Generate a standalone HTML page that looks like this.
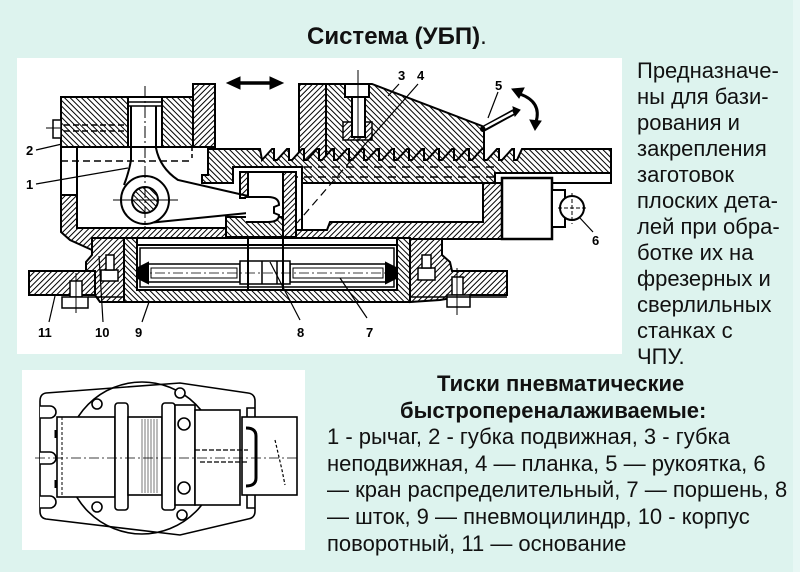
<!DOCTYPE html>
<html><head><meta charset="utf-8">
<style>
html,body{margin:0;padding:0}
body{width:800px;height:572px;background:#ddf3ee;position:relative;overflow:hidden;font-family:"Liberation Sans","DejaVu Sans",sans-serif;color:#111}
.t{position:absolute;white-space:nowrap;font-size:22px;line-height:26px}
</style></head><body>
<svg width="800" height="572" style="position:absolute;left:0;top:0" xmlns="http://www.w3.org/2000/svg">
<defs>
<pattern id="ha" width="4" height="4" patternUnits="userSpaceOnUse" patternTransform="rotate(45)"><rect width="4" height="4" fill="#fff"/><line x1="0.5" y1="0" x2="0.5" y2="4" stroke="#000" stroke-width="1"/></pattern>
<pattern id="hb" width="4" height="4" patternUnits="userSpaceOnUse" patternTransform="rotate(-45)"><rect width="4" height="4" fill="#fff"/><line x1="0.5" y1="0" x2="0.5" y2="4" stroke="#000" stroke-width="1"/></pattern>
</defs>
<rect x="793" y="0" width="7" height="572" fill="#e7f7f4"/>
<rect x="17" y="58" width="605" height="296" fill="#fff"/>
<rect x="22" y="370" width="283" height="180" fill="#fff"/>

<g stroke="#000" stroke-width="2" fill="none">
<!-- fixed jaw -->
<polygon points="326,84 372,84 482,126 484,132 484,160 326,160" fill="url(#hb)"/>
<rect x="299" y="84" width="27" height="76" fill="url(#ha)"/>
<rect x="343" y="122" width="29" height="18" fill="url(#ha)" stroke-width="1.5"/>
<rect x="345" y="84" width="24" height="13" fill="#fff"/>
<rect x="352" y="97" width="13" height="40" fill="#fff"/>
<line x1="358" y1="70" x2="358" y2="142" stroke-width="1"/>

<!-- movable jaw -->
<rect x="61" y="97" width="67" height="50" fill="url(#hb)"/>
<rect x="128" y="97" width="34" height="50" fill="#fff"/>
<rect x="162" y="97" width="31" height="50" fill="url(#hb)"/>
<rect x="193" y="84" width="22" height="63" fill="url(#ha)"/>
<line x1="128" y1="102" x2="162" y2="102" stroke-width="1.5"/>
<line x1="128" y1="106" x2="162" y2="106" stroke-width="1.5"/>
<line x1="55" y1="125" x2="128" y2="125" stroke-width="1.5" stroke-dasharray="6 3"/>
<line x1="55" y1="131" x2="128" y2="131" stroke-width="1.5" stroke-dasharray="6 3"/>
<rect x="53" y="120" width="8" height="18" fill="#fff" stroke-width="1.5"/>
<line x1="46" y1="128" x2="61" y2="128" stroke-width="1"/>

<!-- rack -->
<path d="M208,149 L260,149 L262,160 L272,149 L274,149 L274,160 L277,160 L287,149 L289,149 L289,160 L292,160 L302,149 L304,149 L304,160 L307,160 L317,149 L319,149 L319,160 L322,160 L332,149 L334,149 L334,160 L337,160 L347,149 L349,149 L349,160 L352,160 L362,149 L364,149 L364,160 L367,160 L377,149 L379,149 L379,160 L382,160 L392,149 L394,149 L394,160 L397,160 L407,149 L409,149 L409,160 L412,160 L422,149 L424,149 L424,160 L427,160 L437,149 L439,149 L439,160 L442,160 L452,149 L454,149 L454,160 L457,160 L467,149 L469,149 L469,160 L472,160 L482,149 L484,149 L484,160 L487,160 L497,149 L499,149 L499,160 L502,160 L512,149 L514,149 L514,160 L517,160 L522,149 L611,149 L611,173 L495,173 L495,183 L302,183 L302,167 L233,167 L233,183 L202,183 L202,175 L208,175 Z" fill="url(#hb)"/>
<line x1="290" y1="167" x2="495" y2="167" stroke-width="1.5" stroke-dasharray="8 6"/>
<line x1="290" y1="177" x2="495" y2="177" stroke-width="1.5" stroke-dasharray="8 6"/>
<path d="M552,183 L611,183 L611,173" stroke-width="2"/>

<!-- lower left body -->
<line x1="61" y1="147" x2="61" y2="195"/>
<line x1="77" y1="147" x2="77" y2="195"/>
<line x1="61" y1="147" x2="215" y2="147"/>
<polygon points="61,195 77,195 77,228 250,228 250,238 92,238 92,250 70,240 61,232" fill="url(#ha)"/>
<line x1="61" y1="161" x2="192" y2="161" stroke-width="1.5" stroke-dasharray="7 4"/>
<line x1="192" y1="147" x2="192" y2="161" stroke-width="1.5" stroke-dasharray="4 3"/>

<!-- center box -->
<rect x="240" y="172" width="8" height="26" fill="url(#ha)"/>
<rect x="283" y="172" width="13" height="65" fill="url(#ha)"/>
<rect x="226" y="217" width="57" height="20" fill="url(#hb)"/>
<line x1="240" y1="172" x2="296" y2="172"/>
<path d="M233,183 L233,167 L302,167 L302,237"/>

<!-- right cavity floor and wall -->
<polygon points="296,230 327,230 330,222 483,222 483,183 502,183 502,239 296,239" fill="url(#ha)"/>

<!-- cylinder -->
<path d="M123,238 L137,238 L137,290 L397,290 L397,238 L410,238 L410,302 L123,302 Z" fill="url(#hb)"/>
<rect x="137" y="238" width="260" height="7" fill="#fff"/>
<rect x="137" y="245" width="260" height="45" fill="#fff"/>
<rect x="140" y="248" width="254" height="39" stroke-width="1.5"/>
<rect x="148" y="264" width="92" height="18" fill="#fff" stroke-width="1.5"/>
<rect x="151" y="268" width="86" height="10" stroke-width="1"/>
<polygon points="138,268 148,263 148,283 138,278" fill="#000"/>
<rect x="290" y="264" width="96" height="18" fill="#fff" stroke-width="1.5"/>
<rect x="293" y="268" width="90" height="10" stroke-width="1"/>
<polygon points="396,268 386,263 386,283 396,278" fill="#000"/>
<rect x="240" y="261" width="50" height="23" fill="#fff" stroke-width="1.5"/>
<line x1="262" y1="261" x2="262" y2="284" stroke-width="1.5"/>
<line x1="277" y1="261" x2="277" y2="284" stroke-width="1.5"/>
<line x1="248" y1="237" x2="248" y2="290"/>
<line x1="283" y1="237" x2="283" y2="290"/>
<line x1="137" y1="273" x2="397" y2="273" stroke-width="0.8" stroke-dasharray="10 3 2 3"/>

<!-- body 10 left / base 11 -->
<polygon points="92,238 124,238 124,302 100,302 95,295 95,271 86,271 86,262 92,255" fill="url(#ha)"/>
<rect x="101" y="270" width="17" height="11" fill="#fff" stroke-width="1.5"/>
<rect x="106" y="255" width="8" height="15" fill="#fff" stroke-width="1.5"/>
<rect x="29" y="271" width="66" height="24" fill="url(#ha)"/>
<rect x="70" y="281" width="12" height="16" fill="#fff" stroke-width="1.5"/>
<rect x="62" y="297" width="26" height="11" fill="#fff" stroke-width="1.5"/>
<line x1="76" y1="273" x2="76" y2="313" stroke-width="1"/>
<line x1="88" y1="297" x2="123" y2="297" stroke-width="1.5"/>

<!-- body 10 right / base right -->
<polygon points="410,239 442,239 442,255 450,262 452,271 507,271 507,295 470,295 440,300 410,302" fill="url(#ha)"/>
<rect x="418" y="268" width="17" height="12" fill="#fff" stroke-width="1.5"/>
<rect x="422" y="255" width="9" height="13" fill="#fff" stroke-width="1.5"/>
<rect x="452" y="277" width="11" height="18" fill="#fff" stroke-width="1.5"/>
<rect x="447" y="295" width="23" height="12" fill="#fff" stroke-width="1.5"/>
<line x1="457" y1="268" x2="457" y2="315" stroke-width="1"/>
<line x1="410" y1="297" x2="507" y2="297" stroke-width="1.5"/>

<!-- valve 6 -->
<rect x="502" y="178" width="50" height="61" fill="#fff" stroke-width="2.5"/>
<rect x="552" y="190" width="13" height="37" fill="#fff"/>
<circle cx="572" cy="208" r="12" fill="#fff"/>
<line x1="558" y1="208" x2="587" y2="208" stroke-width="1" stroke-dasharray="4 2"/>
<line x1="572" y1="193" x2="572" y2="224" stroke-width="1" stroke-dasharray="4 2"/>

<!-- lever 1 -->
<path d="M131,106 L131,160 Q129,172 124,185"/>
<path d="M156,106 L156,148 Q160,168 178,180 L248,196"/>
<line x1="148" y1="223" x2="248" y2="213"/>
<circle cx="145" cy="200" r="24" fill="#fff"/>
<circle cx="145" cy="200" r="13" fill="url(#hb)"/>
<line x1="145" y1="86" x2="145" y2="230" stroke-width="1" stroke-dasharray="12 3 2 3"/>
<line x1="113" y1="200" x2="178" y2="200" stroke-width="1"/>
<!-- hook -->
<path d="M246,197 L268,197 Q279,197 279,205 L274,207 L274,213 L279,215 Q279,222 268,222 L246,222" fill="#fff"/>

<!-- handle 5 -->
<line x1="483" y1="129" x2="514" y2="112" stroke-width="6" stroke-linecap="round"/>
<line x1="485" y1="127.5" x2="513" y2="112.5" stroke="#fff" stroke-width="2.5"/>
<polygon points="513,107 520,110 515,116" fill="#000" stroke-width="1"/>
<!-- curved arrow -->
<path d="M520,94 Q542,102 536,122" stroke-width="3"/>
<polygon points="512,89 524,88 519,98" fill="#000" stroke-width="1"/>
<polygon points="530,120 541,121 535,130" fill="#000" stroke-width="1"/>
<!-- double arrow -->
<line x1="236" y1="83" x2="274" y2="83" stroke-width="3.5"/>
<polygon points="227,83 240,77 240,89" fill="#000" stroke-width="1"/>
<polygon points="283,83 270,77 270,89" fill="#000" stroke-width="1"/>

<!-- leaders -->
<g stroke-width="1.2">
<line x1="36" y1="150" x2="62" y2="144"/>
<line x1="36" y1="184" x2="128" y2="168"/>
<line x1="399" y1="84" x2="388" y2="96"/>
<line x1="418" y1="84" x2="360" y2="150"/>
<line x1="360" y1="150" x2="297" y2="223" stroke-dasharray="8 5"/>
<line x1="498" y1="92" x2="488" y2="118"/>
<line x1="593" y1="232" x2="580" y2="218"/>
<line x1="49" y1="322" x2="55" y2="296"/>
<line x1="103" y1="322" x2="99" y2="256"/>
<line x1="142" y1="322" x2="149" y2="302"/>
<line x1="300" y1="320" x2="270" y2="262"/>
<line x1="367" y1="318" x2="340" y2="278"/>
</g>
</g>

<g font-family="Liberation Sans, sans-serif" font-weight="bold" font-size="13" fill="#000">
<text x="26" y="155">2</text>
<text x="26" y="189">1</text>
<text x="398" y="80">3</text>
<text x="417" y="80">4</text>
<text x="495" y="90">5</text>
<text x="592" y="245">6</text>
<text x="38" y="337">11</text>
<text x="95" y="337">10</text>
<text x="135" y="337">9</text>
<text x="297" y="337">8</text>
<text x="366" y="337">7</text>
</g>

<!-- lower drawing -->
<g stroke="#000" stroke-width="1.6" fill="none">
<path d="M46,393 L180,383 L248,393 Q255,394 255,401 L255,511 Q255,518 248,519 L180,535 L46,519 Q40,518 40,511 L40,401 Q40,394 46,393 Z" fill="#fff"/>
<path d="M40,406 L50,406 A6,6 0 0 1 50,418 L40,418" fill="#fff"/>
<path d="M40,452 L50,452 A6,6 0 0 1 50,464 L40,464" fill="#fff"/>
<path d="M40,496 L50,496 A6,6 0 0 1 50,508 L40,508" fill="#fff"/>
<path d="M255,408 L247,408 L247,508 L255,508" />
<circle cx="142" cy="458" r="76"/>
<rect x="57" y="417" width="58" height="80" fill="#fff"/>
<line x1="62" y1="417" x2="62" y2="497" stroke-dasharray="3 2" stroke-width="1"/>
<rect x="115" y="403" width="13" height="107" rx="3" fill="#fff"/>
<rect x="128" y="417" width="34" height="78" fill="#fff"/>
<g stroke-width="0.8" stroke="#555">
<line x1="142" y1="419" x2="142" y2="493"/><line x1="145" y1="419" x2="145" y2="493"/><line x1="148" y1="419" x2="148" y2="493"/><line x1="151" y1="419" x2="151" y2="493"/><line x1="154" y1="419" x2="154" y2="493"/><line x1="157" y1="419" x2="157" y2="493"/>
</g>
<rect x="162" y="403" width="13" height="107" rx="3" fill="#fff"/>
<rect x="175" y="405" width="20" height="100" fill="#fff"/>
<circle cx="184" cy="424" r="6"/>
<circle cx="184" cy="488" r="6"/>
<rect x="195" y="410" width="45" height="95" fill="#fff"/>
<rect x="242" y="417" width="55" height="78" fill="#fff"/>
<path d="M246,428 Q256,428 256,436 L256,478 Q256,486 246,486" stroke-width="3"/>
<line x1="195" y1="450" x2="248" y2="450" stroke-width="1.2" stroke-dasharray="5 2"/>
<line x1="200" y1="462" x2="248" y2="462" stroke-width="1.2" stroke-dasharray="5 2"/>
<path d="M275,440 L282,470 L285,485" stroke-width="1.2" stroke-dasharray="3 2"/>
<circle cx="97" cy="404" r="5" fill="#fff"/>
<circle cx="180" cy="393" r="5" fill="#fff"/>
<circle cx="97" cy="507" r="5" fill="#fff"/>
<circle cx="182" cy="515" r="5" fill="#fff"/>
<line x1="35" y1="458" x2="300" y2="458" stroke-width="0.8" stroke-dasharray="10 3 2 3"/>
<line x1="56" y1="430" x2="56" y2="438" stroke-width="3"/>
<line x1="56" y1="480" x2="56" y2="488" stroke-width="3"/>
</g>
</svg>

<div class="t" style="left:307px;top:25px;font-size:24px;line-height:24px;font-weight:bold">Система (УБП)<span style="font-weight:normal">.</span></div>

<div class="t" style="left:637px;top:58px">Предназначе-<br>ны для бази-<br>рования и<br>закрепления<br>заготовок<br>плоских дета-<br>лей при обра-<br>ботке их на<br>фрезерных и<br>сверлильных<br>станках с<br>ЧПУ.</div>

<div class="t" style="left:437px;top:371px;line-height:26.6px;font-weight:bold;font-size:22px">Тиски пневматические</div>
<div class="t" style="left:400px;top:397.6px;line-height:26.6px;font-weight:bold;font-size:22px">быстропереналаживаемые:</div>
<div class="t" style="left:327px;top:424.2px;line-height:26.6px">1 - рычаг, 2 - губка подвижная, 3 - губка<br>неподвижная, 4 — планка, 5 — рукоятка, 6<br>— кран распределительный, 7 — поршень, 8<br>— шток, 9 — пневмоцилиндр, 10 - корпус<br>поворотный, 11 — основание</div>
</body></html>
